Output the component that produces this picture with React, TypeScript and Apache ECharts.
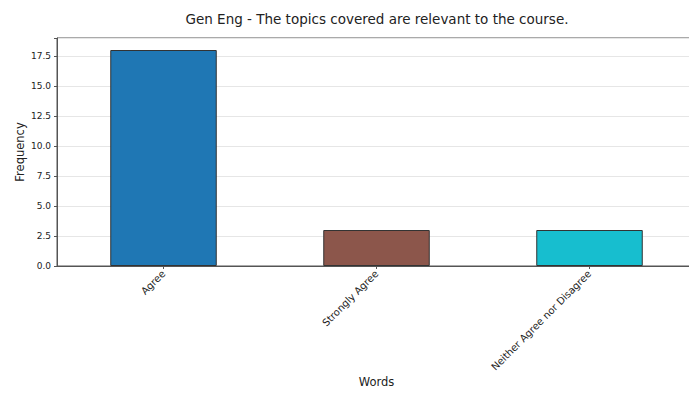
import React, { useEffect, useRef } from "react";
import * as echarts from "echarts";

const categories = ["Agree", "Strongly Agree", "Neither Agree nor Disagree"];
const frequencies = [18, 3, 3];
const barColors = ["#1f77b4", "#8c564b", "#17becf"];
const titleText = "Gen Eng - The topics covered are relevant to the course.";

export default function App() {
  const ref = useRef<HTMLDivElement>(null);
  useEffect(() => {
    if (!ref.current) return;
    const chart = echarts.init(ref.current, undefined, { renderer: "svg" });
    chart.setOption({
      animation: false,
      backgroundColor: "#ffffff",
      title: {
        text: titleText,
        left: 372,
        top: 7,
        textAlign: "center",
        textStyle: { fontSize: 13.5, fontWeight: "normal", color: "#222", fontFamily: "DejaVu Sans" },
      },
      grid: {
        left: 57,
        top: 38,
        width: 639,
        height: 228,
        outerBoundsMode: "none",
        containLabel: false,
        show: true,
        borderColor: "#555",
        borderWidth: 1,
        backgroundColor: "transparent",
      },
      xAxis: {
        type: "category",
        data: categories,
        boundaryGap: true,
        name: "Words",
        nameLocation: "middle",
        nameGap: 110,
        nameMoveOverlap: false,
        nameTextStyle: { fontSize: 11.5, color: "#222", fontFamily: "DejaVu Sans" },
        axisLine: { show: true, lineStyle: { color: "#555", width: 1 } },
        axisTick: { show: true, alignWithLabel: true, length: 3, lineStyle: { color: "#555" } },
        axisLabel: {
          rotate: 45,
          fontSize: 10,
          color: "#222",
          margin: 6,
          interval: 0,
          fontFamily: "DejaVu Sans",
        },
        splitLine: { show: false },
      },
      yAxis: {
        type: "value",
        min: 0,
        max: 19,
        interval: 2.5,
        name: "Frequency",
        nameLocation: "middle",
        nameGap: 31,
        nameMoveOverlap: false,
        nameRotate: 90,
        nameTextStyle: { fontSize: 11.5, color: "#222", fontFamily: "DejaVu Sans" },
        axisLine: { show: true, lineStyle: { color: "#555", width: 1 } },
        axisTick: { show: true, length: 3, lineStyle: { color: "#555" } },
        axisLabel: {
          fontSize: 9,
          color: "#222",
          margin: 6,
          fontFamily: "DejaVu Sans",
          formatter: (v: number) => (Math.abs(v / 2.5 - Math.round(v / 2.5)) < 1e-9 ? v.toFixed(1) : ""),
        },
        splitLine: { show: true, lineStyle: { color: "#e6e6e6", width: 1 } },
      },
      series: [
        {
          type: "bar",
          barWidth: "50%",
          data: frequencies.map((v, i) => ({
            value: v,
            itemStyle: { color: barColors[i], borderColor: "#333", borderWidth: 1 },
          })),
        },
      ],
    });
    return () => chart.dispose();
  }, []);
  return (
    <div
      ref={ref}
      style={{ position: "fixed", left: 0, top: 0, width: 689, height: 396, background: "#fff" }}
    />
  );
}
